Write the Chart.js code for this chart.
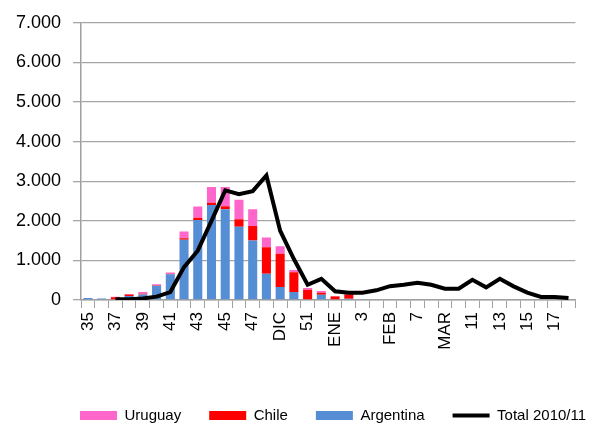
<!DOCTYPE html>
<html>
<head>
<meta charset="utf-8">
<script src="https://cdn.jsdelivr.net/npm/chart.js@4/dist/chart.umd.min.js"></script>
<style>
  body { margin: 0; background: #fff; }
  #wrap { width: 593px; height: 425px; }
</style>
</head>
<body>
<div id="wrap"><canvas id="chart"></canvas></div>
<script>
// semanas / meses
let semanas = ["35","36","37","38","39","40","41","42","43","44","45","46","47","48",
               "DIC","50","51","52","ENE","2","3","4","FEB","6","7","8","MAR",
               "10","11","12","13","14","15","16","17","18"];

let argentina = [50,40,20,100,140,360,650,1520,2020,2400,2290,1850,1500,660,330,200,0,135,0,30,
                 0,0,0,0,0,0,0,0,0,0,0,0,0,0,0,0];
let chile     = [0,0,50,40,20,10,10,40,60,55,75,190,370,670,840,500,260,50,90,110,
                 0,0,0,0,0,0,0,0,0,0,0,0,0,0,0,0];
let uruguay   = [0,0,10,10,40,30,35,170,280,400,490,490,420,250,190,60,40,40,10,10,
                 0,0,0,0,0,0,0,0,0,0,0,0,0,0,0,0];
let total     = [null,null,20,20,40,85,200,830,1245,2000,2770,2670,2750,3145,1750,1035,385,535,220,185,
                 185,245,350,385,435,385,285,285,510,320,535,345,185,75,75,50];

let ordenLeyenda = ["Uruguay","Chile","Argentina","Total 2010/11"];

Chart.defaults.font.family = "'Liberation Sans', Arial, sans-serif";
Chart.defaults.color = "#000";

// mover la leyenda a la derecha, como en el original
let moverLeyenda = {
    id: "moverLeyenda",
    afterLayout(chart) {
        chart.legend.left = 80 - 28;
        chart.legend.right = 800;
        chart.legend.top += 8;
    }
};

let ctx = document.getElementById("chart").getContext("2d");

let chart = new Chart(ctx, {
    type: "bar",
    data: {
        labels: semanas,
        datasets: [
            { label: "Argentina", data: argentina, backgroundColor: "#558ED5", pointStyle: "rect", order: 1 },
            { label: "Chile", data: chile, backgroundColor: "#FF0000", pointStyle: "rect", order: 1 },
            { label: "Uruguay", data: uruguay, backgroundColor: "#FF66CC", pointStyle: "rect", order: 1 },
            {
                type: "line",
                label: "Total 2010/11",
                data: total,
                borderColor: "#000",
                backgroundColor: "#000",
                borderWidth: 4,
                tension: 0,
                pointRadius: 0,
                pointStyle: "line",
                stack: "total",
                order: 0
            }
        ]
    },
    options: {
        responsive: true,
        maintainAspectRatio: false,
        animation: false,
        layout: { padding: { left: 4, right: 6, top: 10, bottom: 0 } },
        datasets: {
            bar: { barPercentage: 0.66, categoryPercentage: 1 }
        },
        plugins: {
            tooltip: { enabled: false },
            legend: {
                position: "bottom",
                align: "start",
                labels: {
                    usePointStyle: true,
                    pointStyleWidth: 37,
                    boxHeight: 9,
                    padding: 28,
                    font: { size: 15 },
                    sort: (a, b) => ordenLeyenda.indexOf(a.text) - ordenLeyenda.indexOf(b.text)
                }
            }
        },
        scales: {
            x: {
                stacked: true,
                grid: { drawOnChartArea: false, tickLength: 8, color: "#a0a0a0" },
                border: { color: "#a0a0a0", width: 1.5 },
                ticks: {
                    autoSkip: false,
                    maxRotation: 90,
                    minRotation: 90,
                    padding: 4,
                    font: { size: 17 },
                    callback: function (v, i) { return i % 2 === 0 ? semanas[i] : ""; }
                },
                afterFit: function (scale) { scale.height = 72; }
            },
            y: {
                stacked: true,
                min: 0,
                max: 7000,
                grid: { tickLength: 8, color: "#a6a6a6", lineWidth: 1.3 },
                border: { color: "#a0a0a0", width: 1.5 },
                ticks: {
                    stepSize: 1000,
                    padding: 12,
                    font: { size: 18 },
                    callback: v => v.toLocaleString("de-DE")
                }
            }
        }
    },
    plugins: [moverLeyenda]
});
</script>
</body>
</html>
